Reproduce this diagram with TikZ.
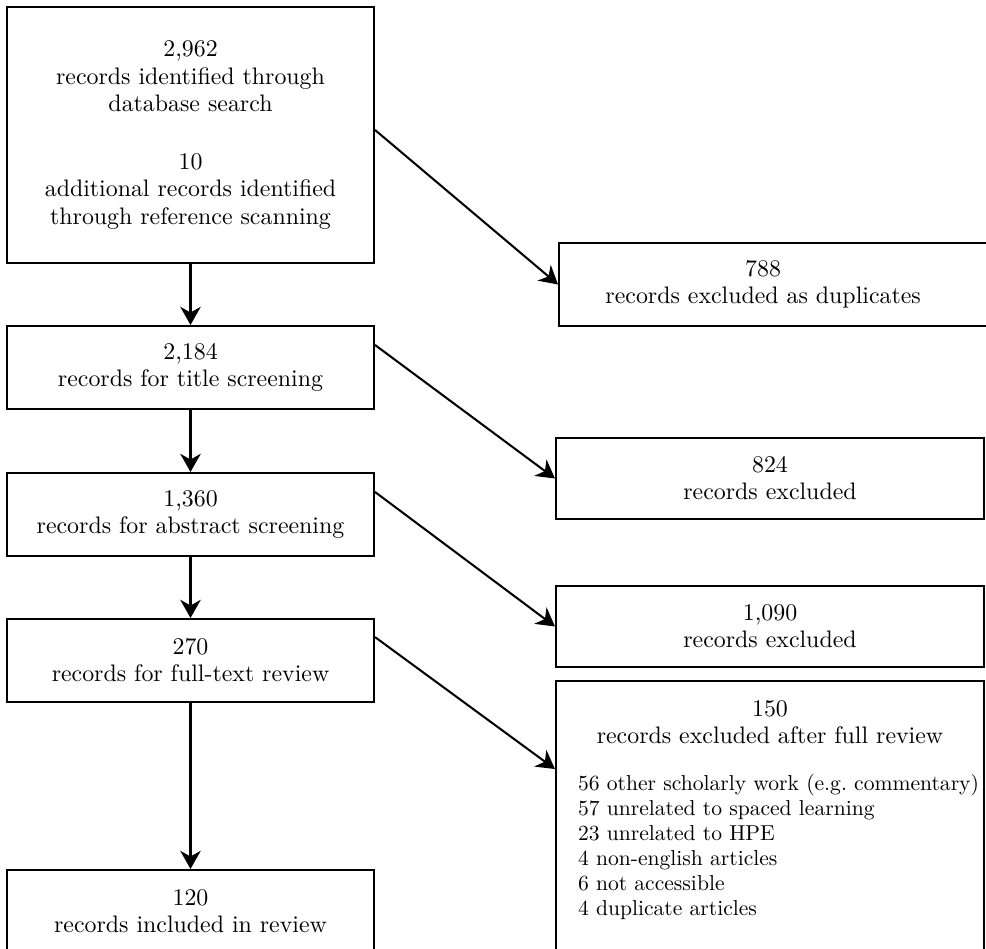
\documentclass[tikz,border=0pt]{standalone}
\usepackage{amsmath}
\usetikzlibrary{arrows.meta, positioning, calc}

\begin{document}
\begin{tikzpicture}[
        x=0.44pt, y=-0.44pt,
        box/.style={rectangle, draw, line width=0.9pt, align=center, inner sep=0pt, font=\fontsize{10.5}{11.9}\selectfont},
        arrow/.style={-{Stealth[length=8pt, width=9pt, inset=2.5pt]}, line width=0.9pt}
    ]
        \useasboundingbox (0,0) rectangle (986,949);

        % Left column
        \node[box, minimum width=161.5pt, minimum height=112.6pt] (found) at (190.5,135)
            {2,962\\records identified through\\database search\\[14pt]10\\additional records identified\\through reference scanning};
        \node[box, minimum width=161.5pt, minimum height=36.5pt] (title) at (190.5,367.5)
            {2,184\\records for title screening};
        \node[box, minimum width=161.5pt, minimum height=36.5pt] (abstract) at (190.5,514.5)
            {1,360\\records for abstract screening};
        \node[box, minimum width=161.5pt, minimum height=36.5pt] (fulltext) at (190.5,660.5)
            {270\\records for full-text review};
        \node[box, minimum width=161.5pt, minimum height=36.5pt] (included) at (190.5,911.5)
            {120\\records included in review};

        % Right column
        \node[box, minimum width=189.6pt, minimum height=36.5pt] (dupl) at (774.5,284.5)
            {\begin{tabular}{@{}c@{}}788\\records excluded as duplicates\end{tabular}\hspace*{10pt}};
        \node[box, minimum width=188.3pt, minimum height=35.6pt] (excl_title) at (770,478.5)
            {824\\records excluded};
        \node[box, minimum width=188.3pt, minimum height=35.6pt] (excl_abs) at (770,626.5)
            {1,090\\records excluded};
        \node[box] (excl_full) at (770,820.5)
            {\begin{minipage}[c][122.8pt][t]{188.3pt}
             \vspace*{8.5pt}
             \centering 150\\records excluded after full review\par
             \fontsize{9.5}{11}\selectfont\vspace{10pt}
             \raggedright\leftskip=9.7pt
             56 other scholarly work (e.g.\ commentary)\\57 unrelated to spaced learning\\23 unrelated to HPE\\4 non-english articles\\6 not accessible\\4 duplicate articles\par
             \end{minipage}};

        % Arrows
        \draw[arrow] (found) -- (title);
        \draw[arrow] (title) -- (abstract);
        \draw[arrow] (abstract) -- (fulltext);
        \draw[arrow] (fulltext) -- (included);
        \draw[arrow] ([yshift=2.2pt]found.east) -- (dupl.west);
        \draw[arrow] ([yshift=9.9pt]title.east) -- (excl_title.west);
        \draw[arrow] ([yshift=9.9pt]abstract.east) -- (excl_abs.west);
        \draw[arrow] ([yshift=10.3pt]fulltext.east) -- ([yshift=-39.2pt]excl_full.north west);
    \end{tikzpicture}
\end{document}
